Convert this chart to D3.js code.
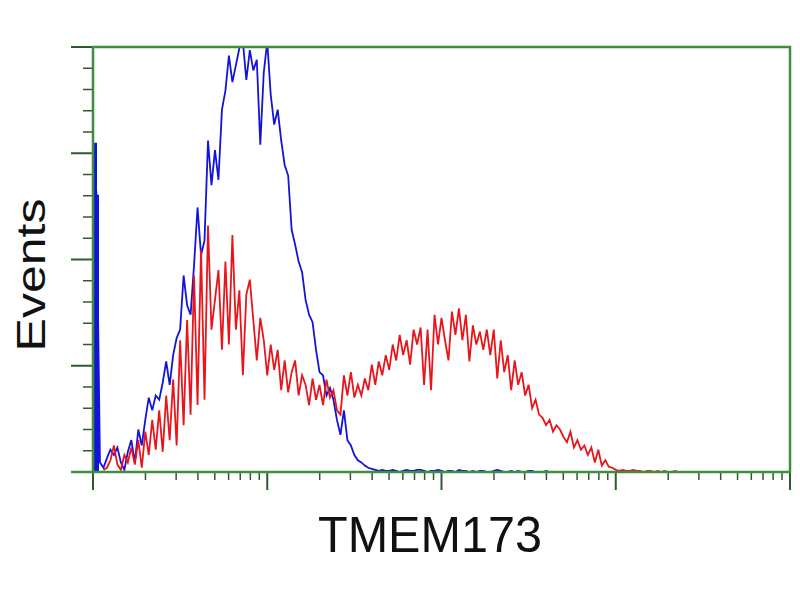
<!DOCTYPE html>
<html>
<head>
<meta charset="utf-8">
<script src="https://cdn.jsdelivr.net/npm/d3@7"></script>
<style>
  body { margin: 0; background: #fff; }
  text { font-family: "Liberation Sans", Arial, sans-serif; }
</style>
</head>
<body>
<svg id="chart" width="800" height="600"></svg>
<script>
// histogram bins: one bin every 0.02 decade, starting at channel 1
const binStep = 0.02;
const xTicksMajor = [1, 10, 100, 1000, 10000];
const yTicksMajor = [0, 100, 200, 300, 400];

// unstained control (blue)
const blueCounts = [
  310, 261, 9, 4, 13, 21, 16, 23, 9, 2,
  19, 30, 9, 40, 25, 49, 70, 58, 72, 68,
  84, 104, 82, 110, 126, 134, 185, 157, 148, 195,
  249, 204, 218, 312, 270, 303, 275, 341, 359, 392,
  367, 383, 399, 405, 369, 397, 378, 388, 308, 376,
  405, 355, 327, 341, 312, 289, 279, 228, 214, 198,
  188, 162, 148, 141, 115, 94, 91, 72, 79, 68,
  49, 35, 58, 30, 25, 16, 11, 9, 6, 4,
  3, 2, 1, 2, 1, 1, 2, 1, 0, 1,
  2, 1, 1, 2, 2, 1, 0, 1, 1, 2,
  1, 0, 1, 1, 0, 2, 1, 1, 0, 1,
  0, 1, 1, 0, 0, 1, 2, 1, 0, 0,
  1, 0, 1, 0, 0, 1, 1, 0, 0, 0,
  1, 0, 0, 0, 0, 0
];

// TMEM173 stained (red), first value is bin 3
const redStart = 3;
const redCounts = [
  2, 4, 11, 25, 7, 2, 16, 9, 23, 7,
  30, 4, 38, 16, 49, 21, 58, 19, 72, 30,
  87, 25, 124, 44, 143, 54, 185, 63, 209, 68,
  232, 134, 162, 190, 115, 198, 120, 223, 134, 171,
  91, 167, 181, 143, 105, 145, 124, 91, 120, 96,
  115, 77, 105, 75, 94, 105, 72, 91, 82, 63,
  88, 68, 82, 63, 87, 70, 77, 58, 54, 91,
  72, 94, 70, 82, 72, 88, 77, 101, 82, 104,
  91, 110, 96, 120, 105, 129, 110, 124, 101, 134,
  120, 136, 82, 134, 77, 148, 120, 145, 124, 105,
  151, 129, 154, 124, 148, 104, 138, 120, 132, 115,
  134, 110, 134, 88, 124, 94, 110, 77, 105, 82,
  94, 72, 82, 60, 68, 54, 51, 44, 49, 38,
  44, 40, 33, 28, 38, 23, 30, 21, 25, 16,
  23, 9, 21, 6, 11, 5, 4, 2, 1, 2,
  1, 1, 2, 1, 1, 0, 1, 1, 0, 1,
  0, 1, 0, 0, 1, 0, 0, 0
];

const svg = d3.select("#chart");
const plotLeft = 93, plotRight = 790, plotTop = 47, plotBottom = 472;
const frameColor = "#3d8f3d";
const tickColor = "#2f5a2f";
const blue = "#1414d8", red = "#e8161c";

const x = d3.scaleLog().domain([1, 10000]).range([plotLeft, plotRight]);
const y = d3.scaleLinear().domain([0, 400]).range([plotBottom, plotTop]);

svg.append("defs").append("clipPath").attr("id", "plot")
  .append("rect").attr("x", plotLeft).attr("y", plotTop)
  .attr("width", plotRight - plotLeft).attr("height", plotBottom - plotTop);

// minor ticks
const xMinor = [];
for (let d = 1; d < 10000; d *= 10) {
  for (let k = 2; k <= 9; k++) xMinor.push(d * k);
}
const yMinor = d3.range(0, 401, 20).filter(v => v % 100 !== 0);

const xAxis = svg.append("g").attr("transform", `translate(0,${plotBottom})`);
xAxis.selectAll(".minor").data(xMinor).join("line")
  .attr("x1", d => x(d)).attr("x2", d => x(d))
  .attr("y1", 0).attr("y2", 8)
  .attr("stroke", tickColor).attr("stroke-width", 1.5);
xAxis.selectAll(".major").data(xTicksMajor).join("line")
  .attr("x1", d => x(d)).attr("x2", d => x(d))
  .attr("y1", 0).attr("y2", 18)
  .attr("stroke", tickColor).attr("stroke-width", 2);

const yAxis = svg.append("g").attr("transform", `translate(${plotLeft},0)`);
yAxis.selectAll(".minor").data(yMinor).join("line")
  .attr("x1", -10).attr("x2", 0)
  .attr("y1", d => y(d)).attr("y2", d => y(d))
  .attr("stroke", tickColor).attr("stroke-width", 1.5);
yAxis.selectAll(".major").data(yTicksMajor).join("line")
  .attr("x1", -22).attr("x2", 0)
  .attr("y1", d => y(d)).attr("y2", d => y(d))
  .attr("stroke", tickColor).attr("stroke-width", 2);

// histograms
const line = d3.line()
  .x(d => x(Math.pow(10, d.bin * binStep)))
  .y(d => y(d.count));

const blueData = blueCounts.map((c, i) => ({ bin: i, count: c }));
const redData = redCounts.map((c, i) => ({ bin: i + redStart, count: c }));

const plot = svg.append("g").attr("clip-path", "url(#plot)");
plot.append("path").datum(blueData)
  .attr("d", line).attr("fill", "none")
  .attr("stroke", blue).attr("stroke-width", 1.8);
plot.append("path").datum(redData)
  .attr("d", line).attr("fill", "none")
  .attr("stroke", red).attr("stroke-width", 1.8);
// first blue bins pile up on the axis as a thick bar
plot.append("line")
  .attr("x1", x(1) + 2).attr("x2", x(1) + 2)
  .attr("y1", y(0)).attr("y2", y(blueCounts[0]))
  .attr("stroke", blue).attr("stroke-width", 4);
plot.append("line")
  .attr("x1", x(1) + 4).attr("x2", x(1) + 4)
  .attr("y1", y(0)).attr("y2", y(blueCounts[1]))
  .attr("stroke", blue).attr("stroke-width", 4);

// frame
svg.append("rect")
  .attr("x", plotLeft).attr("y", plotTop)
  .attr("width", plotRight - plotLeft).attr("height", plotBottom - plotTop)
  .attr("fill", "none").attr("stroke", frameColor).attr("stroke-width", 2.5);
svg.append("line")
  .attr("x1", plotLeft - 22).attr("x2", plotLeft)
  .attr("y1", plotBottom).attr("y2", plotBottom)
  .attr("stroke", frameColor).attr("stroke-width", 2.5);

// labels
svg.append("text")
  .attr("x", 430).attr("y", 552)
  .attr("text-anchor", "middle")
  .attr("font-size", 50)
  .attr("textLength", 224).attr("lengthAdjust", "spacingAndGlyphs")
  .attr("fill", "#111")
  .text("TMEM173");

svg.append("text")
  .attr("transform", "translate(45,275) rotate(-90)")
  .attr("text-anchor", "middle")
  .attr("font-size", 40)
  .attr("textLength", 153).attr("lengthAdjust", "spacingAndGlyphs")
  .attr("fill", "#111")
  .text("Events");
</script>
</body>
</html>
